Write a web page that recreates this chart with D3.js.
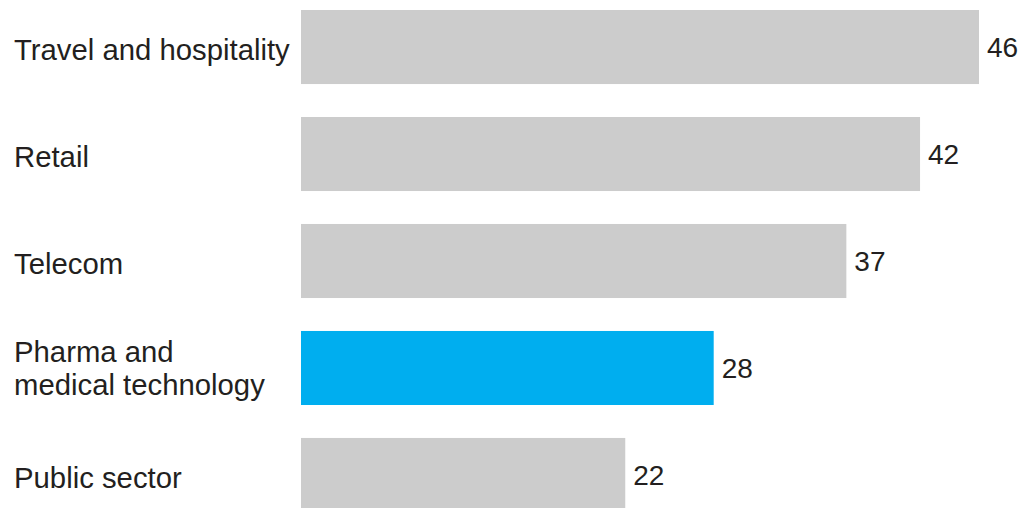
<!DOCTYPE html>
<html>
<head>
<meta charset="utf-8">
<script src="https://cdn.jsdelivr.net/npm/d3@7/dist/d3.min.js"></script>
<style>
  html, body { margin: 0; padding: 0; background: #ffffff; }
  svg { display: block; }
  text { font-family: "Liberation Sans", Arial, Helvetica, sans-serif; fill: #231f20; }
</style>
</head>
<body>
<svg id="chart" width="1021" height="508"></svg>
<script>
// Industry categories (label lines) and their values
const categories = ["Travel and hospitality", "Retail", "Telecom", "Pharma and medical technology", "Public sector"];
const labelLines = [["Travel and hospitality"], ["Retail"], ["Telecom"], ["Pharma and", "medical technology"], ["Public sector"]];
const values = [46, 42, 37, 28, 22];
const highlighted = ["Pharma and medical technology"];

const svg = d3.select("#chart");

const x = d3.scaleLinear().domain([0, 46]).range([301, 979]);
const y = d3.scaleBand().domain(categories).range([10, 512]).paddingInner(0.308).paddingOuter(0);

const rows = svg.selectAll("g.row")
  .data(categories.map((c, i) => ({ c, v: values[i], lines: labelLines[i] })))
  .join("g")
  .attr("class", "row");

// bars
rows.append("rect")
  .attr("x", x(0))
  .attr("y", d => y(d.c))
  .attr("width", d => x(d.v) - x(0))
  .attr("height", y.bandwidth())
  .attr("fill", d => highlighted.includes(d.c) ? "#00aeef" : "#cccccc");

// value labels at bar ends
rows.append("text")
  .attr("x", d => x(d.v) + 8)
  .attr("y", d => y(d.c) + y.bandwidth() / 2 + 10)
  .attr("font-size", 28)
  .text(d => d.v);

// category labels, wrapped where needed
rows.each(function(d) {
  const g = d3.select(this);
  const cy = y(d.c) + y.bandwidth() / 2;
  const lh = 33;
  const first = d.lines.length === 1 ? cy + 13 : cy - 5.5;
  g.append("text")
    .attr("x", 14)
    .attr("font-size", 29.3)
    .selectAll("tspan")
    .data(d.lines)
    .join("tspan")
    .attr("x", 14)
    .attr("y", (t, i) => first + i * lh)
    .text(t => t);
});
</script>
</body>
</html>
